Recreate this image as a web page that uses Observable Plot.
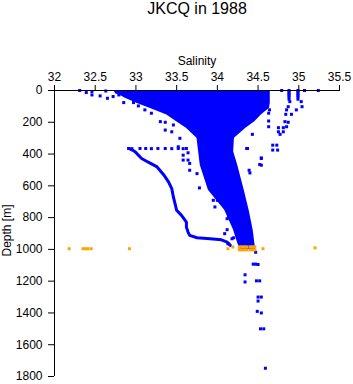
<!DOCTYPE html>
<html><head><meta charset="utf-8">
<script src="https://cdn.jsdelivr.net/npm/d3@7"></script>
<script src="https://cdn.jsdelivr.net/npm/@observablehq/plot@0.6"></script>
<style>body{margin:0;background:#fff;} svg{display:block}</style>
</head><body><div id="chart"></div>
<script>
const title = "JKCQ in 1988";
const xLabel = "Salinity";
const yLabel = "Depth [m]";
const xTicks = [32, 32.5, 33, 33.5, 34, 34.5, 35, 35.5];
const xTickLabels = ["32", "32.5", "33", "33.5", "34", "34.5", "35", "35.5"];
const yTicks = [0, 200, 400, 600, 800, 1000, 1200, 1400, 1600, 1800];
const yTickLabels = ["0", "200", "400", "600", "800", "1000", "1200", "1400", "1600", "1800"];

// envelope of the dense bundle of blue profiles
const bandDepth = [0, 20, 35, 49, 80, 112, 154, 196, 238, 301, 386, 470, 628, 754, 880, 962, 1000];
const bandLeft  = [32.73, 32.75, 32.82, 32.87, 33.01, 33.17, 33.38, 33.50, 33.62, 33.75, 33.77, 33.79, 33.89, 34.09, 34.20, 34.25, 34.28];
const bandRight = [34.65, 34.65, 34.65, 34.65, 34.65, 34.64, 34.54, 34.46, 34.35, 34.21, 34.20, 34.25, 34.33, 34.39, 34.44, 34.46, 34.47];

// the separate low-salinity profile
const profSal = [32.93, 32.97, 33.00, 33.03, 33.07, 33.13, 33.18, 33.26, 33.34, 33.40, 33.44, 33.46, 33.48, 33.50, 33.56, 33.62, 33.62, 33.64, 33.66, 33.75, 33.91, 34.05, 34.12, 34.16];
const profDep = [369, 378, 390, 407, 428, 445, 459, 481, 530, 575, 617, 670, 712, 754, 786, 828, 860, 891, 912, 927, 933, 940, 954, 975];

// scattered blue samples
const blueSal = [
  32.91, 32.95, 33.05, 33.12, 33.19, 33.27, 33.36, 33.44, 33.52, 33.58, 33.62,
  32.31, 32.39, 32.46, 32.46, 32.56, 32.63, 32.65, 32.72, 32.79, 32.85, 32.97, 33.03, 33.11, 33.19,
  33.30, 33.36, 33.36, 33.44, 33.46, 33.54, 33.52, 33.58, 33.64, 33.58, 33.64, 33.66, 33.66, 33.75,
  33.78, 33.95, 33.97, 34.00, 34.12, 34.14, 34.12, 34.09, 34.20, 34.13, 34.18, 34.47,
  34.79, 34.88, 34.88, 34.88, 34.88, 34.88, 34.88, 34.99, 34.99, 34.99, 34.99, 34.99, 34.99, 35.07, 35.24,
  34.89, 35.03, 34.87, 35.04, 34.85, 34.97, 34.84, 34.91, 34.83, 34.87, 34.75, 34.81, 34.85,
  34.75, 34.81, 34.77, 34.63, 34.63, 34.43, 34.68, 34.73, 34.68, 34.74, 34.36, 34.54, 34.52,
  34.64, 34.63, 34.37, 34.54, 34.54, 34.39, 34.40,
  34.44, 34.47, 34.50, 34.34, 34.34, 34.48, 34.52, 34.50, 34.54, 34.50, 34.49, 34.54, 34.53, 34.57, 34.59
];
const blueDep = [
  365, 366, 365, 365, 366, 365, 365, 366, 365, 366, 365,
  0, 13, 7, 28, 34, 3, 49, 38, 28, 76, 76, 97, 122, 143,
  196, 200, 249, 260, 217, 301, 354, 407, 392, 438, 438, 459, 502, 523,
  613, 691, 733, 691, 807, 797, 876, 901, 927, 965, 933, 1018,
  0, 0, 10, 20, 30, 40, 55, 0, 10, 20, 30, 40, 55, 0, 0,
  70, 70, 102, 102, 122, 122, 150, 150, 196, 200, 234, 234, 228,
  260, 260, 276, 192, 228, 276, 344, 344, 375, 375, 365, 424, 466,
  122, 143, 365, 428, 470, 502, 519,
  1093, 1093, 1095, 1160, 1205, 1198, 1198, 1300, 1300, 1325, 1390, 1400, 1500, 1500, 1748
];

// orange samples near 1000 m
const orangeSal = [32.18, 32.35, 32.38, 32.41, 32.45, 32.92, 34.13, 34.19,
  34.27, 34.30, 34.33, 34.36, 34.40, 34.43, 34.46,
  34.27, 34.30, 34.33, 34.36, 34.40, 34.43, 34.46, 34.56, 35.20];
const orangeDep = [996, 996, 996, 996, 996, 996, 996, 985,
  984, 984, 984, 984, 984, 984, 984,
  1003, 1003, 1003, 1003, 1003, 1003, 1003, 996, 990];

const band = bandDepth.map((d, i) => ({d, l: bandLeft[i], r: bandRight[i]}));
const prof = profDep.map((d, i) => ({d, s: profSal[i]}));
const blue = blueDep.map((d, i) => ({d, s: blueSal[i]}));
const orange = orangeDep.map((d, i) => ({d, s: orangeSal[i]}));

const font = "'Liberation Sans', Arial, Helvetica, sans-serif";
const chart = Plot.plot({
  width: 353, height: 384,
  marginLeft: 54, marginRight: 14, marginTop: 90, marginBottom: 8,
  style: {fontFamily: font, fontSize: "12px", color: "black", background: "white"},
  x: {domain: [32, 35.5]},
  y: {domain: [0, 1800], reverse: true},
  marks: [
    Plot.areaX(band, {y: "d", x1: "l", x2: "r", fill: "#0000ff", curve: "linear"}),
    Plot.line(prof, {x: "s", y: "d", stroke: "#0000ff", strokeWidth: 3}),
    Plot.dot(blue, {x: "s", y: "d", symbol: "square", r: 1.7, fill: "#0000ff", stroke: "none"}),
    Plot.dot(orange, {x: "s", y: "d", symbol: "square", r: 1.7, fill: "#ffa500", stroke: "none"}),
    Plot.ruleY([0], {stroke: "black"}),
    Plot.ruleX([32], {stroke: "black"}),
    Plot.axisX(xTicks, {anchor: "top", tickSize: 6, tickPadding: 4, label: null, fontSize: 12,
      tickFormat: d => xTickLabels[xTicks.indexOf(d)]}),
    Plot.axisY(yTicks, {anchor: "left", tickSize: 6, tickPadding: 6, label: null, fontSize: 12,
      tickFormat: d => yTickLabels[yTicks.indexOf(d)]}),
    Plot.text([title], {frameAnchor: "top", lineAnchor: "middle", dy: -82, fontSize: 16}),
    Plot.text([xLabel], {frameAnchor: "top", lineAnchor: "middle", dy: -29, fontSize: 12}),
    Plot.text([yLabel], {frameAnchor: "left", textAnchor: "middle", lineAnchor: "middle", rotate: -90, dx: -47, dy: -3, fontSize: 12})
  ]
});
document.getElementById("chart").appendChild(chart);
</script>
</body></html>
